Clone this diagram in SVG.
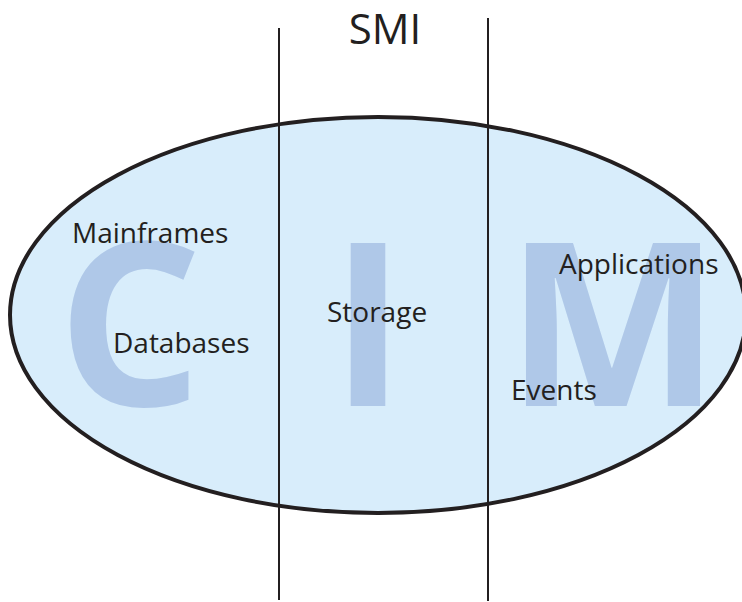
<svg xmlns="http://www.w3.org/2000/svg" width="742" height="602" viewBox="0 0 742 602">
  <style>
    .big { font-family: "Open Sans", "Liberation Sans", sans-serif; font-weight: bold; font-size: 228px; fill: #afc8e8; text-anchor: middle; }
    .lbl { font-family: "Open Sans", "Liberation Sans", sans-serif; font-size: 28px; fill: #231f20; }
    .div { stroke: #231f20; stroke-width: 2; fill: none; }
  </style>
  <rect width="742" height="602" fill="#ffffff"/>

  <!-- CIM ellipse -->
  <g id="cim">
    <ellipse cx="378" cy="315" rx="368" ry="198" fill="#d8edfb" stroke="#231f20" stroke-width="4"/>
    <text class="big" x="130" y="406">C</text>
    <text class="big" x="368" y="406">I</text>
    <text class="big" x="613" y="406">M</text>
  </g>

  <!-- SMI band boundaries -->
  <g id="connectors">
    <line class="div" x1="279" y1="28" x2="279" y2="600"/>
    <line class="div" x1="488" y1="18" x2="488" y2="601"/>
  </g>

  <g id="smi">
    <text x="385" y="44" font-family="Open Sans, Liberation Sans, sans-serif" font-size="42" fill="#231f20" text-anchor="middle">SMI</text>
  </g>

  <g id="mainframes"><text class="lbl" x="72" y="243">Mainframes</text></g>
  <g id="databases"><text class="lbl" x="113" y="353">Databases</text></g>
  <g id="storage"><text class="lbl" x="327" y="322">Storage</text></g>
  <g id="applications"><text class="lbl" x="559" y="274">Applications</text></g>
  <g id="events"><text class="lbl" x="511" y="400">Events</text></g>
</svg>
